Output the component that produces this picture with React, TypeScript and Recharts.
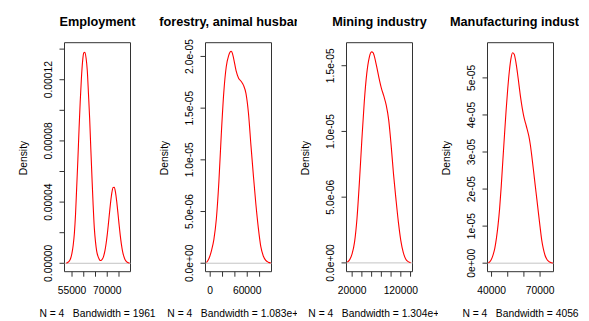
import { LineChart, Line, XAxis, YAxis, ReferenceArea, ReferenceLine } from 'recharts';

// one density panel per sector, N = 4 each
const titles = ['Employment', 'Agriculture, forestry, animal husbandry and fishery', 'Mining industry', 'Manufacturing industry'];
const bandwidths = ['1961', '1.083e+04', '1.304e+04', '4056'];
const sampleSize = 4;

// densities are in units of 1e-6
const employmentX = [
  52500, 53000, 53500, 54000, 54500, 55000, 55500, 56000, 56500, 57000, 57500, 58000, 58500, 59000,
  59500, 60000, 60500, 61000, 61500, 62000, 62500, 63000, 63500, 64000, 64500, 65000, 65500, 66000,
  66500, 67000, 67500, 68000, 68500, 69000, 69500, 70000, 70500, 71000, 71500, 72000, 72500, 73000,
  73500, 74000, 74500, 75000, 75500, 76000, 76500, 77000, 77500, 78000, 78500, 79000, 79500,
];
const employmentDensity = [
  0.2, 0.4, 0.9, 1.8, 3.6, 6.8, 11.8, 19.5, 32, 50, 68, 88, 106, 121,
  132, 137.5, 138, 134, 126, 111, 95, 75, 56, 38, 23, 14, 8, 4.8,
  2.9, 1.8, 2.0, 2.9, 4.9, 8.1, 12.8, 18.7, 25.9, 33.6, 40.8, 46.5, 49.6, 49.7,
  46.5, 40.8, 33.6, 25.9, 18.7, 12.7, 8, 4.8, 2.7, 1.4, 0.7, 0.3, 0.1,
];

const agricultureX = [
  -6000, -2000, 2000, 6000, 10000, 14000, 18000, 22000, 26000, 30000, 32000, 34000, 36000, 38000,
  42000, 46000, 50000, 54000, 58000, 62000, 66000, 70000, 74000, 78000, 82000, 86000, 90000, 94000, 98000,
];
const agricultureDensity = [
  0.07, 0.45, 1.2, 2.3, 4.3, 7.8, 12.5, 16.5, 19.0, 20.1, 20.4, 20.5, 20.3, 19.8,
  18.6, 17.9, 17.6, 17.2, 16.4, 14.5, 11.4, 8.45, 5.7, 3.4, 1.6, 0.7, 0.28, 0.1, 0.03,
];

const miningX = [
  10000, 15000, 20000, 25000, 30000, 35000, 40000, 45000, 50000, 55000, 60000, 63000, 65000, 70000,
  75000, 80000, 85000, 90000, 95000, 100000, 105000, 110000, 115000, 120000, 125000, 130000, 135000, 140000,
];
const miningDensity = [
  0.06, 0.25, 0.7, 1.6, 3.4, 6.2, 9.4, 12.3, 14.4, 15.6, 16.05, 16.0, 15.8, 15.0,
  14.1, 13.3, 12.7, 12.0, 10.9, 9.0, 6.75, 4.85, 3.1, 1.7, 0.8, 0.3, 0.1, 0.02,
];

const manufacturingX = [
  38000, 39000, 40000, 41000, 42000, 43000, 44000, 45000, 46000, 47000, 48000, 49000, 50000, 51000,
  52000, 53000, 54000, 55000, 56000, 57000, 58000, 59000, 60000, 61000, 62000, 63000, 64000, 65000,
  66000, 67000, 68000, 69000, 70000, 71000, 72000, 73000, 74000, 75000, 76000, 77000, 78000,
];
const manufacturingDensity = [
  0.12, 0.4, 1.1, 2.3, 4.0, 6.7, 10.2, 14.8, 20.8, 27.8, 34.6, 41.2, 47.0, 51.8,
  55.2, 56.8, 56.4, 54.4, 51.4, 48.0, 44.6, 41.8, 39.5, 37.8, 36.2, 34.4, 31.9, 28.5,
  24.8, 21.0, 17.3, 13.5, 9.8, 6.3, 3.9, 2.2, 1.2, 0.6, 0.3, 0.1, 0.03,
];

const xTicks = [
  [55000, 60000, 65000, 70000, 75000],
  [0, 20000, 40000, 60000, 80000],
  [20000, 40000, 60000, 80000, 100000, 120000, 140000],
  [40000, 50000, 60000, 70000],
];
const xTickLabels = [
  ['55000', '', '', '70000', ''],
  ['0', '', '', '60000', ''],
  ['20000', '', '', '', '', '120000', ''],
  ['40000', '', '', '70000'],
];
const yTicks = [
  [0, 20, 40, 60, 80, 100, 120, 140],
  [0, 5, 10, 15, 20],
  [0, 5, 10, 15],
  [0, 10, 20, 30, 40, 50],
];
const yTickLabels = [
  ['0.00000', '', '0.00004', '', '0.00008', '', '0.00012', ''],
  ['0.0e+00', '5.0e-06', '1.0e-05', '1.5e-05', '2.0e-05'],
  ['0.0e+00', '5.0e-06', '1.0e-05', '1.5e-05'],
  ['0e+00', '1e-05', '2e-05', '3e-05', '4e-05', '5e-05'],
];
const xDomains = [[51800, 79900], [-7600, 99300], [8400, 144000], [37500, 78300]];
const yDomains = [[-5.5, 144.2], [-0.82, 21.33], [-0.67, 16.75], [-2.3, 59.5]];

const series = [
  { xs: employmentX, ys: employmentDensity },
  { xs: agricultureX, ys: agricultureDensity },
  { xs: miningX, ys: miningDensity },
  { xs: manufacturingX, ys: manufacturingDensity },
];

const FONT = '"Liberation Sans", Arial, Helvetica, sans-serif';
const FIG_LEFT = 15;
const FIG_W = 141;
const H = 321;
const BOX_LEFT = 49.5;
const BOX_RIGHT = 115.5;
const BOX_TOP = 42.7;
const BOX_BOTTOM = 271.7;
const TXT = 10.3;

function Panel({ i }: { i: number }) {
  const data = series[i].xs.map((x, k) => ({ x, d: series[i].ys[k] }));
  const xd = xDomains[i];
  const yd = yDomains[i];
  const mid = (BOX_LEFT + BOX_RIGHT) / 2;

  const xTick = (p: any) => (
    <text x={p.x} y={BOX_BOTTOM + 22} textAnchor="middle" fontSize={TXT} fontFamily={FONT} fill="#000">
      {xTickLabels[i][p.index]}
    </text>
  );
  const yTick = (p: any) => {
    const cx = BOX_LEFT - 16.5;
    return (
      <text x={cx} y={p.y} dy="0.35em" transform={`rotate(-90 ${cx} ${p.y})`} textAnchor="middle" fontSize={TXT} fontFamily={FONT} fill="#000">
        {yTickLabels[i][p.index]}
      </text>
    );
  };

  return (
    <div style={{ position: 'absolute', left: FIG_LEFT + i * FIG_W, top: 0, width: FIG_W, height: H, overflow: 'hidden' }}>
      <LineChart width={FIG_W} height={H} data={data} margin={{ top: BOX_TOP, right: FIG_W - BOX_RIGHT, bottom: 0, left: 0 }}>
        <XAxis dataKey="x" type="number" domain={xd} allowDataOverflow ticks={xTicks[i]} interval={0}
          height={H - BOX_BOTTOM} tickSize={5} axisLine={false} tickLine={{ stroke: '#333' }} tick={xTick} />
        <YAxis type="number" domain={yd} allowDataOverflow ticks={yTicks[i]} interval={0}
          width={BOX_LEFT} tickSize={5} axisLine={false} tickLine={{ stroke: '#333' }} tick={yTick} />
        <ReferenceLine y={0} stroke="#c4c4c4" />
        <Line dataKey="d" type="monotone" stroke="#ff0000" strokeWidth={1.1} dot={false} isAnimationActive={false} />
        <ReferenceArea x1={xd[0]} x2={xd[1]} y1={yd[0]} y2={yd[1]} fill="none" stroke="#333" strokeWidth={1} />
      </LineChart>
      <svg width={FIG_W} height={H} style={{ position: 'absolute', left: 0, top: 0, pointerEvents: 'none' }}>
        <text x={mid} y={25.5} textAnchor="middle" fontSize={12.7} fontWeight="bold" fontFamily={FONT} fill="#000">
          {titles[i]}
        </text>
        <text x={BOX_LEFT - 41.5} y={158} dy="0.35em" transform={`rotate(-90 ${BOX_LEFT - 41.5} 158)`}
          textAnchor="middle" fontSize={TXT} fontFamily={FONT} fill="#000">
          Density
        </text>
        <text x={mid} y={317} textAnchor="middle" fontSize={TXT} fontFamily={FONT} fill="#000" style={{ whiteSpace: 'pre' }}>
          {`N = ${sampleSize}   Bandwidth = ${bandwidths[i]}`}
        </text>
      </svg>
    </div>
  );
}

export default function App() {
  return (
    <div style={{ position: 'absolute', left: 0, top: 0, width: 589, height: H, background: '#fff', overflow: 'hidden' }}>
      {titles.map((_, i) => (
        <Panel key={i} i={i} />
      ))}
    </div>
  );
}
